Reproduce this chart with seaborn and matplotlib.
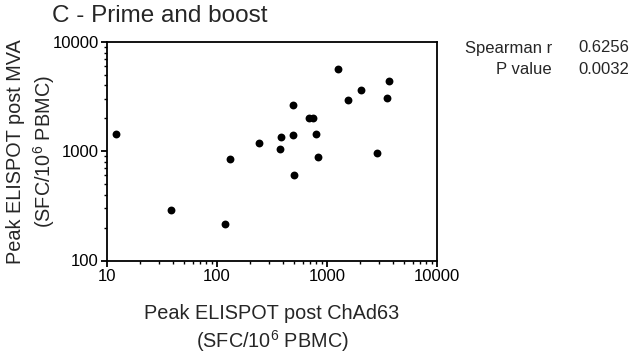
import matplotlib
matplotlib.use("Agg")
import matplotlib.pyplot as plt
import seaborn as sns
import pandas as pd
import numpy as np
from matplotlib.ticker import FixedLocator, FixedFormatter, LogLocator, NullFormatter

# Data
chad63 = [12, 38, 117, 131, 239, 377, 385, 488, 491, 498, 686, 741, 789, 828, 1268, 1552, 2037, 2831, 3510, 3664]
mva = [1432, 289, 218, 845, 1191, 1050, 1343, 1422, 2642, 607, 1997, 1997, 1432, 888, 5654, 2959, 3606, 967, 3040, 4413]
x_ticks = [10, 100, 1000, 10000]
x_tick_labels = ["10", "100", "1000", "10000"]
y_ticks = [100, 1000, 10000]
y_tick_labels = ["100", "1000", "10000"]
stat_names = ["Spearman r", "P value"]
stat_values = ["0.6256", "0.0032"]

sns.set_style("ticks")
plt.rcParams["font.family"] = ["Liberation Sans", "DejaVu Sans"]
plt.rcParams["mathtext.fontset"] = "custom"
plt.rcParams["mathtext.rm"] = "Liberation Sans"
plt.rcParams["mathtext.it"] = "Liberation Sans:italic"
plt.rcParams["mathtext.bf"] = "Liberation Sans:bold"

df = pd.DataFrame({"x": chad63, "y": mva})

W, H = 634, 360
ax_l, ax_r, ax_t, ax_b = 107, 437, 42, 260.5
fig = plt.figure(figsize=(W / 100, H / 100), dpi=100)
ax = fig.add_axes([ax_l / W, 1 - ax_b / H, (ax_r - ax_l) / W, (ax_b - ax_t) / H])

sns.scatterplot(data=df, x="x", y="y", ax=ax, color="black", s=32,
                edgecolor="black", linewidth=0, zorder=3)

ax.set_xscale("log")
ax.set_yscale("log")
ax.set_xlim(10, 10000)
ax.set_ylim(100, 10000)
ax.xaxis.set_major_locator(FixedLocator(x_ticks))
ax.xaxis.set_major_formatter(FixedFormatter(x_tick_labels))
ax.yaxis.set_major_locator(FixedLocator(y_ticks))
ax.yaxis.set_major_formatter(FixedFormatter(y_tick_labels))
ax.xaxis.set_minor_locator(LogLocator(base=10, subs=np.arange(2, 10)))
ax.yaxis.set_minor_locator(LogLocator(base=10, subs=np.arange(2, 10)))
ax.xaxis.set_minor_formatter(NullFormatter())
ax.yaxis.set_minor_formatter(NullFormatter())

for sp in ax.spines.values():
    sp.set_visible(True)
    sp.set_linewidth(1.3)
    sp.set_color("black")
ax.tick_params(which="major", direction="out", length=4, width=1.3, colors="black",
               labelsize=12, pad=2)
ax.tick_params(which="minor", direction="out", length=2.2, width=1.0, colors="black")

ax.set_xlabel("Peak ELISPOT post ChAd63\n(SFC/10$^{6}$ PBMC)", fontsize=14.3,
              linespacing=1.27)
ax.set_ylabel("Peak ELISPOT post MVA\n(SFC/10$^{6}$ PBMC)", fontsize=14.3,
              linespacing=1.27)
ax.xaxis.label.set_va("center")
ax.yaxis.label.set_va("center")
ax.xaxis.set_label_coords(0.5, (ax_b - 329) / (ax_b - ax_t))
ax.yaxis.set_label_coords((31.5 - ax_l) / (ax_r - ax_l), 0.5)

fig.text(52 / W, 1 - 16.5 / H, "C - Prime and boost", fontsize=17.5,
         ha="left", va="center")

for i, (name, val) in enumerate(zip(stat_names, stat_values)):
    yy = 1 - (48 + 21 * i) / H
    fig.text(552 / W, yy, name, fontsize=12, ha="right", va="center")
    fig.text(578 / W, yy, val, fontsize=12, ha="left", va="center")

fig.savefig("out.png", dpi=100)
